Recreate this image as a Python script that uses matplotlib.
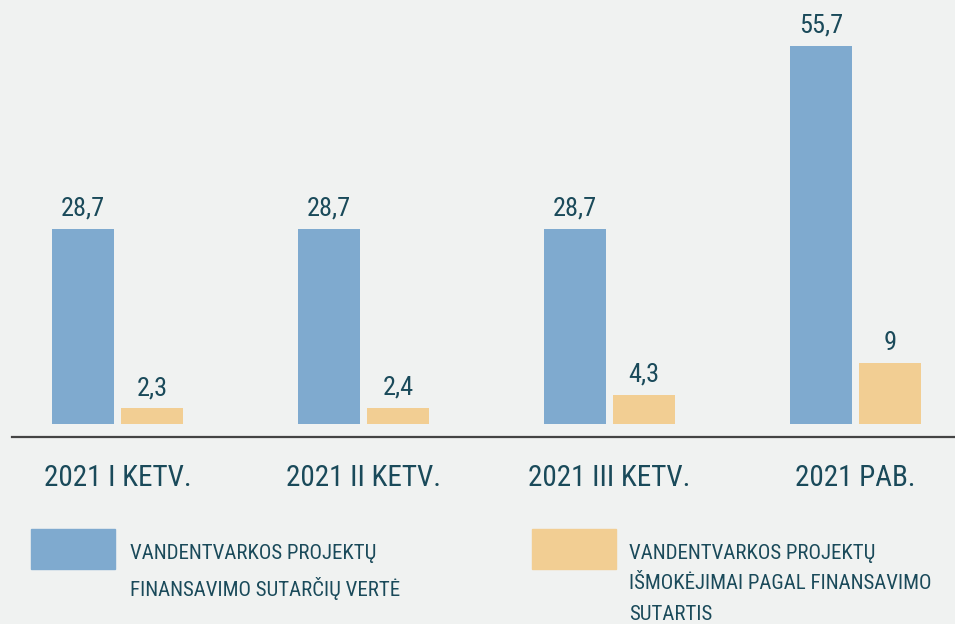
import matplotlib
matplotlib.use("Agg")
import matplotlib.pyplot as plt
from matplotlib import font_manager
from matplotlib.patches import Rectangle
import matplotlib.transforms as mtransforms

categories = ["2021 I KETV.", "2021 II KETV.", "2021 III KETV.", "2021 PAB."]
sutarciu_verte = [28.7, 28.7, 28.7, 55.7]
ismokejimai = [2.3, 2.4, 4.3, 9]
value_labels_blue = ["28,7", "28,7", "28,7", "55,7"]
value_labels_tan = ["2,3", "2,4", "4,3", "9"]
legend_labels = [
    "VANDENTVARKOS PROJEKTŲ\nFINANSAVIMO SUTARČIŲ VERTĖ",
    "VANDENTVARKOS PROJEKTŲ\nIŠMOKĖJIMAI PAGAL FINANSAVIMO\nSUTARTIS",
]

BG = "#f0f2f1"
BLUE = "#7faacf"
TAN = "#f2ce93"
TXT = "#1a4a5a"

# pick a narrow font if there is one
names = {f.name for f in font_manager.fontManager.ttflist}
FONT = "Roboto"
for cand in ["Roboto Condensed", "Liberation Sans Narrow"]:
    if cand in names:
        FONT = cand
        break
narrow = FONT != "Roboto"
plt.rcParams["font.family"] = [FONT, "DejaVu Sans"]

W, H = 955, 624
fig = plt.figure(figsize=(W / 100, H / 100), dpi=100, facecolor=BG)
ax = fig.add_axes([12 / W, (H - 437) / H, 943 / W, 437 / H])
ax.set_facecolor(BG)

x = list(range(len(categories)))
bw = 62 / 246
off = 34.5 / 246
xb = [i - off for i in x]
xt = [i + off for i in x]
bars1 = ax.bar(xb, sutarciu_verte, width=bw, color=BLUE)
bars2 = ax.bar(xt, ismokejimai, width=bw, color=TAN)

ax.set_xlim((12 - 117.5) / 246, (955 - 117.5) / 246)
ax.set_ylim(-13 / 6.79, 424 / 6.79)

vsize = 19 if narrow else 17
for bars, labs in [(bars1, value_labels_blue), (bars2, value_labels_tan)]:
    for b, lab in zip(bars, labs):
        ax.annotate(lab, (b.get_x() + b.get_width() / 2, b.get_height()),
                    xytext=(0, 6), textcoords="offset points",
                    ha="center", va="bottom", fontsize=vsize, color=TXT)

for s in ["top", "right", "left"]:
    ax.spines[s].set_visible(False)
ax.spines["bottom"].set_color("#444444")
ax.spines["bottom"].set_linewidth(1.6)
ax.set_xticks([])
ax.set_yticks([])

trans = mtransforms.blended_transform_factory(ax.transData, fig.transFigure)
csize = 21 if narrow else 18.5
for i, c in enumerate(categories):
    ax.text(i, 1 - 478 / H, c, transform=trans, ha="center", va="center",
            fontsize=csize, color=TXT)

# legend
lsize = 15 if narrow else 13.6
for (bx, tx), col, lab in zip([(31, 130), (532, 629)], [BLUE, TAN], legend_labels):
    fig.patches.append(Rectangle((bx / W, 1 - 569 / H), 84 / W, 40 / H,
                                 transform=fig.transFigure, color=col))
    fig.text(tx / W, 1 - 544 / H, lab, ha="left", va="top", fontsize=lsize,
             color=TXT, linespacing=1.75)

fig.savefig("out.png", dpi=100, facecolor=BG)
